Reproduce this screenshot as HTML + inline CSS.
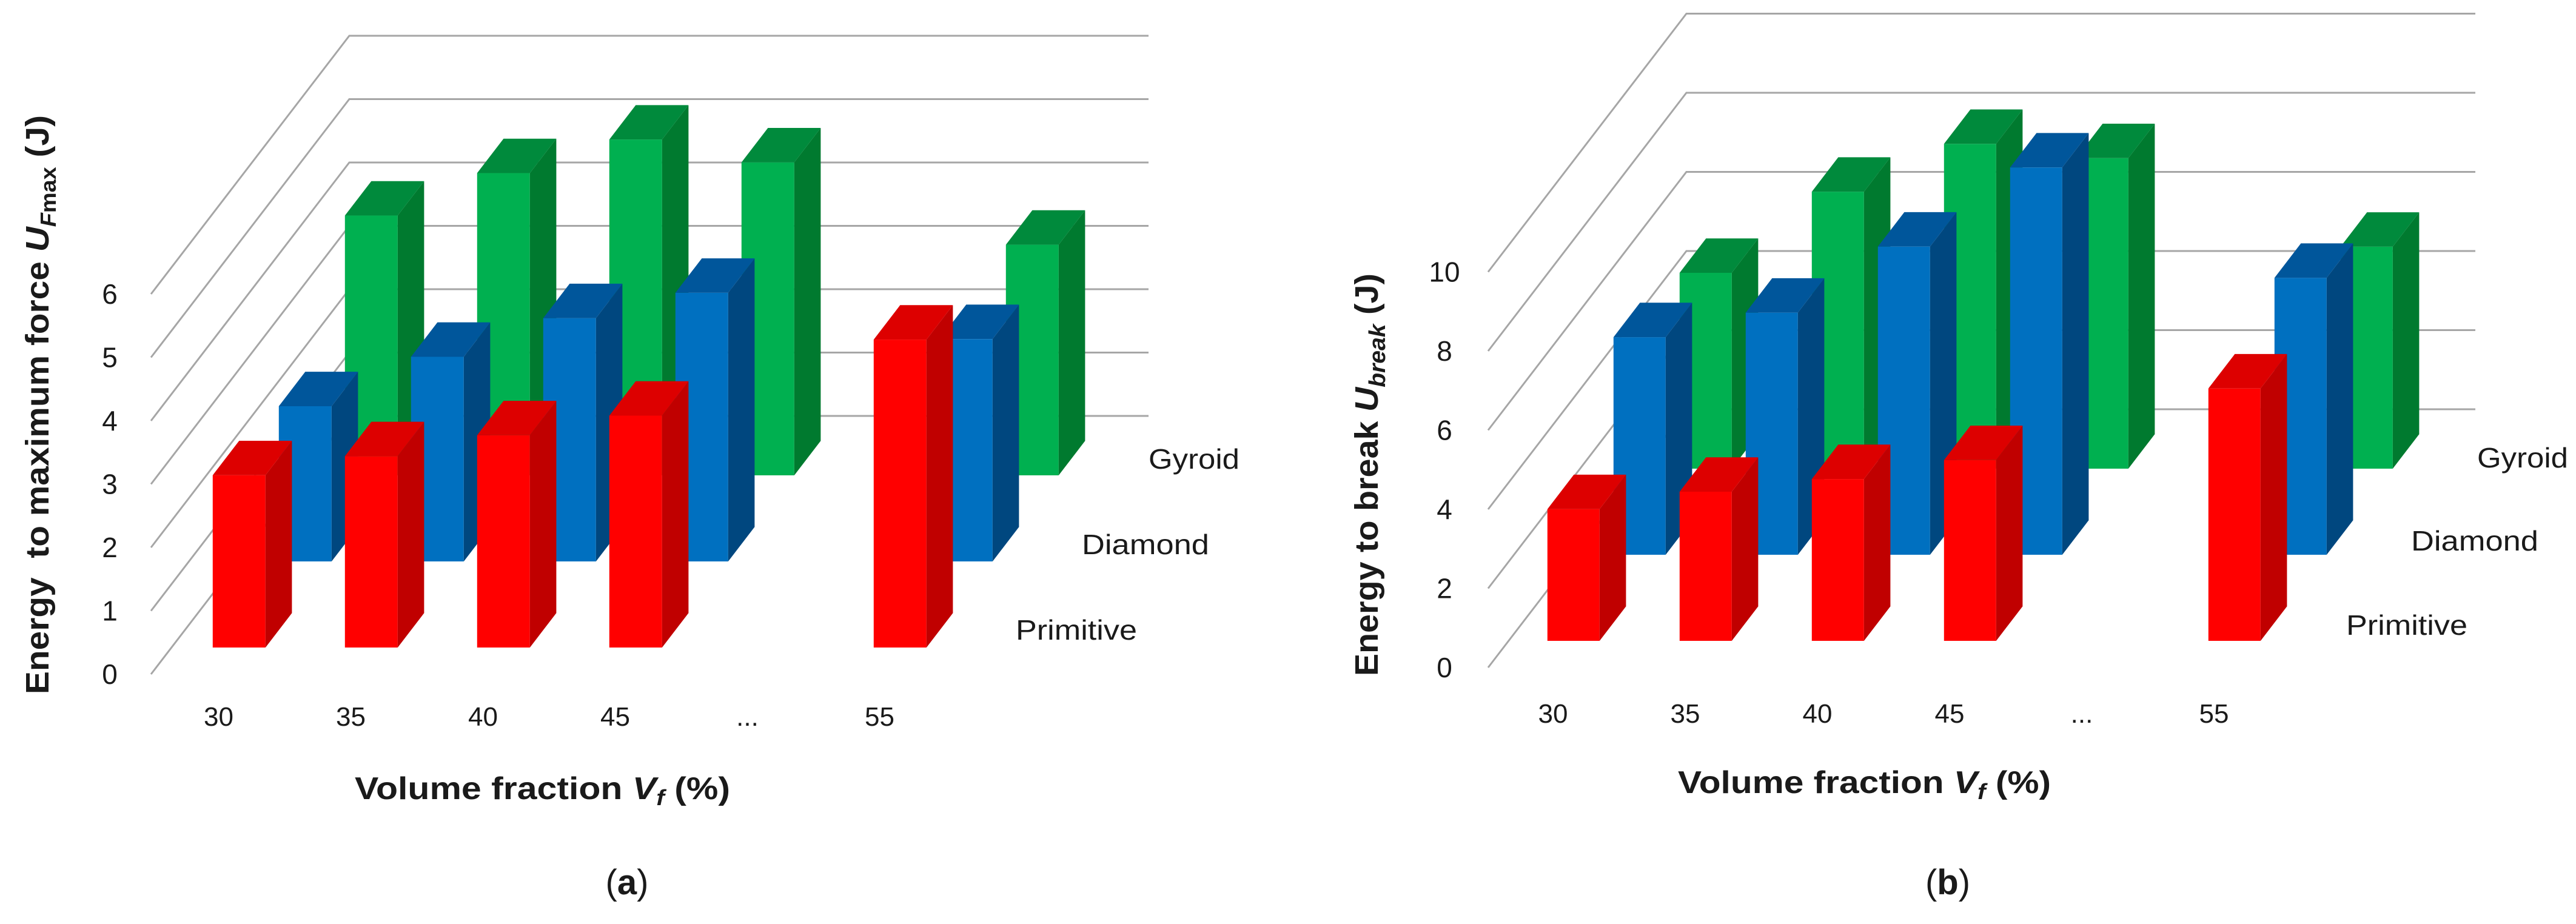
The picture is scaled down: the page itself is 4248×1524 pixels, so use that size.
<!DOCTYPE html>
<html><head><meta charset="utf-8"><style>
html,body{margin:0;padding:0;background:#fff}
svg{display:block}
text{font-family:"Liberation Sans",sans-serif;fill:#1a1a1a}
</style></head><body>
<svg id="fig" width="4248" height="1524" viewBox="0 0 4248 1524" xmlns="http://www.w3.org/2000/svg">
<g id="chartA"></g>
<g id="chartB"></g>
</svg>
<script>
const categories = ["30","35","40","45","...","55"];
const seriesNames = ["Primitive","Diamond","Gyroid"];
const aPrimitive = [2.72,3.02,3.35,3.66,null,4.86];
const aDiamond = [2.45,3.23,3.84,4.24,null,3.51];
const aGyroid = [4.10,4.77,5.30,4.94,null,3.64];
const aTicks = [0,1,2,3,4,5,6];
const bPrimitive = [3.33,3.77,4.09,4.57,null,6.38];
const bDiamond = [5.50,6.12,7.79,9.79,null,7.00];
const bGyroid = [4.95,7.00,8.21,7.85,null,5.61];
const bTicks = [0,2,4,6,8,10];

const NS="http://www.w3.org/2000/svg";
const colors=[["#ff0000","#c00000","#dd0000"],["#0070c0","#00477f","#00569b"],["#00b050","#007a2f","#008a3c"]];
function mk(parent,tag,attrs){const e=document.createElementNS(NS,tag);for(const k in attrs)e.setAttribute(k,attrs[k]);parent.appendChild(e);return e;}

function draw(gid,cfg){
  const g=document.getElementById(gid);
  const {ox,oy,ddx,ddy,k,off,xr,ticks,tickX,series,cw,w}=cfg;
  const yv=v=>k*v;
  // gridlines
  ticks.forEach(t=>{
    const y0=oy-yv(t), bx=ox+3*ddx, by=oy-3*ddy-yv(t);
    const p=mk(g,"polyline",{points:`${ox},${y0} ${bx},${by} ${xr},${by}`,fill:"none",stroke:"#a6a6a6","stroke-width":3});
    
    
    const tx=mk(g,"text",{x:tickX,y:y0+16,"font-size":46,"text-anchor":"middle"});
    tx.textContent=t;
    
    
  });
  // bars back to front
  for(let s=2;s>=0;s--){
    const vals=series[s];
    vals.forEach((v,i)=>{
      if(v===null)return;
      const f=s+0.31, dd=0.4*ddx, dy=0.4*ddy;
      const x0=ox+ddx*f+off+cw*i, yb=oy-ddy*f, yt=yb-yv(v);
      const bar=mk(g,"g",{});
      
      
      mk(bar,"rect",{x:x0,y:yt,width:w,height:yb-yt,fill:colors[s][0]});
      mk(bar,"polygon",{points:`${x0+w},${yb} ${x0+w+dd},${yb-dy} ${x0+w+dd},${yt-dy} ${x0+w},${yt}`,fill:colors[s][1]});
      mk(bar,"polygon",{points:`${x0},${yt} ${x0+w},${yt} ${x0+w+dd},${yt-dy} ${x0+dd},${yt-dy}`,fill:colors[s][2]});
    });
  }
  // category labels
  categories.forEach((c,i)=>{
    const t=mk(g,"text",{x:ox+off+w/2+cw*i,y:cfg.catY,"font-size":44,"text-anchor":"middle"});
    t.textContent=c;
    
    
  });
  // series labels
  cfg.serLab.forEach((p,s)=>{
    const t=mk(g,"text",{x:p[0],y:p[1],"font-size":46,textLength:p[2],lengthAdjust:"spacingAndGlyphs"});
    t.textContent=seriesNames[s];
    
    
  });
}
draw("chartA",{ox:249,oy:1112,ddx:109,ddy:142,k:104.5,off:68,xr:1894,ticks:aTicks,tickX:181,
  series:[aPrimitive,aDiamond,aGyroid],cw:218,w:87,catY:1197,
  serLab:[[1675,1055,200],[1784,914,210],[1894,773,150]]});
draw("chartB",{ox:2454,oy:1101,ddx:109,ddy:142,k:65.25,off:64,xr:4082,ticks:bTicks,tickX:2382,
  series:[bPrimitive,bDiamond,bGyroid],cw:218,w:86,catY:1192,
  serLab:[[3869,1047,200],[3976,908,210],[4085,771,150]]});
</script>
<g></g>
<svg width="0" height="0"></svg>
<script>
const fig=document.getElementById('fig');
function T(x,y,size,txt,attrs,name){const t=document.createElementNS(NS,'text');t.setAttribute('x',x);t.setAttribute('y',y);t.setAttribute('font-size',size);for(const k in attrs)t.setAttribute(k,attrs[k]);t.innerHTML=txt;


fig.appendChild(t);return t;}
T(80,1145,54,'Energy&#160; to maximum force <tspan font-style="italic">U</tspan><tspan font-style="italic" font-size="36" dy="12">F</tspan><tspan font-size="36">max</tspan><tspan dy="-12"> (J)</tspan>',{"font-weight":"bold",transform:"rotate(-90 80 1145)",textLength:955,lengthAdjust:"spacingAndGlyphs"},'y-axis-title-a');
T(2272,1115,54,'Energy to break <tspan font-style="italic">U</tspan><tspan font-style="italic" font-size="38" dy="12">break</tspan><tspan dy="-12"> (J)</tspan>',{"font-weight":"bold",transform:"rotate(-90 2272 1115)",textLength:664,lengthAdjust:"spacingAndGlyphs"},'y-axis-title-b');
T(585,1318,52,'Volume fraction <tspan font-style="italic">V</tspan><tspan font-style="italic" font-size="36" dy="10">f</tspan><tspan dy="-10"> (%)</tspan>',{"font-weight":"bold",textLength:619,lengthAdjust:"spacingAndGlyphs"},'x-axis-title-a');
T(2767,1308,52,'Volume fraction <tspan font-style="italic">V</tspan><tspan font-style="italic" font-size="36" dy="10">f</tspan><tspan dy="-10"> (%)</tspan>',{"font-weight":"bold",textLength:615,lengthAdjust:"spacingAndGlyphs"},'x-axis-title-b');
T(1034,1475,58,'(<tspan font-weight="bold">a</tspan>)',{"text-anchor":"middle","font-family":"Liberation Serif, serif"},'panel-label-a');
T(3212,1475,58,'(<tspan font-weight="bold">b</tspan>)',{"text-anchor":"middle","font-family":"Liberation Serif, serif"},'panel-label-b');
</script>
</body></html>
